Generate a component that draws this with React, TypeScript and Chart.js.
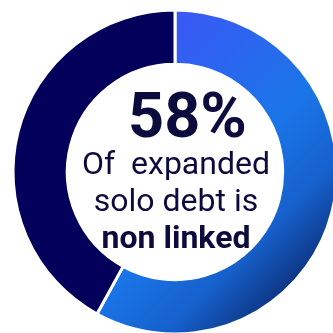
import React, { useEffect, useRef } from "react";
import { Chart, registerables } from "chart.js";

Chart.register(...registerables);

const categories = ["Non linked", "Linked"];
const values = [58, 42];
const headline = "58%";
const captionLines = ["Of  expanded", "solo debt is"];
const boldLine = "non linked";

const NAVY = "#02005a";
const TEXT = "#0b0b3d";

export default function App() {
  const ref = useRef<HTMLCanvasElement | null>(null);

  useEffect(() => {
    const canvas = ref.current;
    if (!canvas) return;

    const textPlugin = {
      id: "centerText",
      afterDraw(chart: any) {
        const c = chart.ctx;
        c.save();
        c.fillStyle = TEXT;
        c.textAlign = "center";
        c.textBaseline = "alphabetic";
        c.font = "bold 63px Roboto";
        c.fillText(headline, 179.5, 129);
        c.font = "32px Roboto";
        c.fillText(captionLines[0], 168, 166);
        c.fillText(captionLines[1], 168, 203);
        c.font = "bold 32px Roboto";
        c.fillText(boldLine, 168, 240);
        c.restore();
      },
    };

    const chart = new Chart(canvas, {
      type: "doughnut",
      data: {
        labels: categories,
        datasets: [
          {
            data: values,
            backgroundColor: (ctx: any) => {
              if (ctx.dataIndex === 1) return NAVY;
              const g = ctx.chart.ctx.createLinearGradient(86, 86, 302, 302);
              g.addColorStop(0, "#3a58f5");
              g.addColorStop(0.49, "#1a75e8");
              g.addColorStop(0.72, "#1660cc");
              g.addColorStop(1, "#0a1f5c");
              return g;
            },
            borderColor: "#ffffff",
            borderWidth: 3,
            hoverOffset: 0,
          },
        ],
      },
      options: {
        responsive: false,
        animation: false,
        radius: 162,
        cutout: 108,
        layout: { padding: 0 },
        plugins: {
          legend: { display: false },
          tooltip: { enabled: false },
        },
        events: [],
      } as any,
      plugins: [textPlugin],
    });

    return () => chart.destroy();
  }, []);

  return (
    <div
      style={{
        position: "fixed",
        left: 0,
        top: 0,
        width: 333,
        height: 333,
        overflow: "hidden",
        background: "#ffffff",
      }}
    >
      <canvas
        ref={ref}
        width={334}
        height={328}
        style={{ display: "block", position: "absolute", left: 8, top: 8 }}
      />
    </div>
  );
}
